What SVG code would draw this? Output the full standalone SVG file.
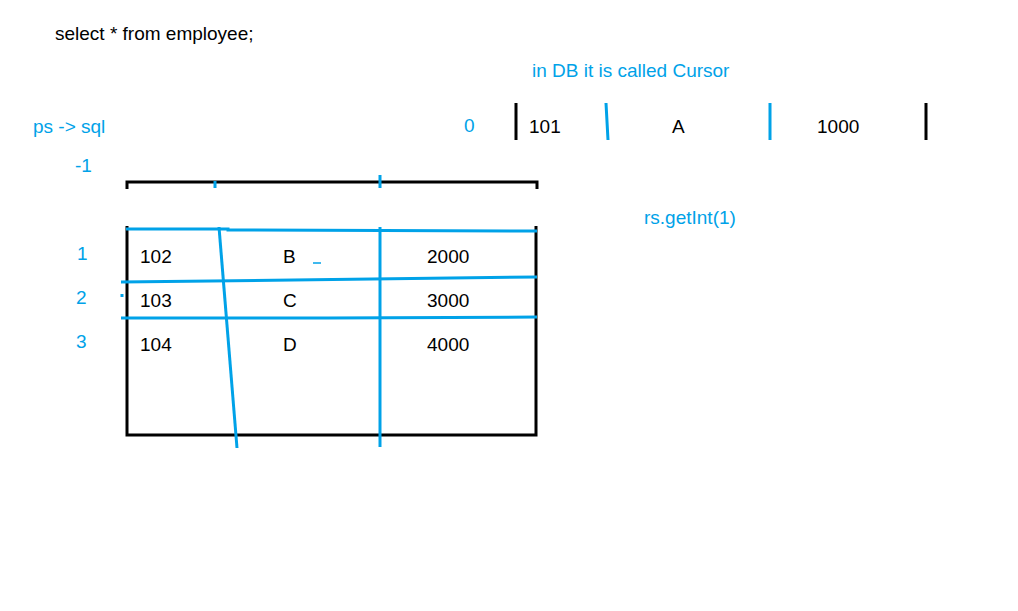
<svg xmlns="http://www.w3.org/2000/svg" width="1018" height="611" viewBox="0 0 1018 611">
<style>
text{font-family:"Liberation Sans",Arial,sans-serif;font-size:19px}
.k{fill:#000}
.b{fill:#00a2e8}
.bl{stroke:#000;stroke-width:3;fill:none}
.bu{stroke:#00a2e8;stroke-width:3;fill:none}
</style>
<rect width="1018" height="611" fill="#fff"/>
<g id="labels">
<text class="k" x="55" y="40">select * from employee;</text>
<text class="b" x="532" y="77">in DB it is called Cursor</text>
<text class="b" x="33" y="133">ps -&gt; sql</text>
<text class="b" x="464" y="132">0</text>
<text class="b" x="75" y="172">-1</text>
<text class="b" x="644" y="224">rs.getInt(1)</text>
<text class="b" x="77" y="260">1</text>
<text class="b" x="76" y="304">2</text>
<text class="b" x="76" y="348">3</text>
</g>
<g id="cursor-row">
<path class="bl" d="M516 103V140M926 103V140"/>
<path class="bu" stroke-width="2.5" d="M606 103L608 140M770 103V140"/>
<text class="k" x="529" y="133">101</text>
<text class="k" x="672" y="133">A</text>
<text class="k" x="817" y="133">1000</text>
</g>
<g id="header">
<path class="bl" d="M127 189V182H537V189"/>
<path class="bu" d="M215 181V188M380 175V188"/>
</g>
<g id="table">
<path class="bl" d="M127 226V435H536V226"/>
<path class="bu" d="M126 229L228 229L228 230L537 231"/>
<path class="bu" d="M219 227L237 448"/>
<path class="bu" d="M380 227V447"/>
<path class="bu" d="M121 282L537 277"/>
<path class="bu" d="M121 318L328 318L537 317"/>
<path class="bu" d="M122 294V297"/>
<path stroke="#00a2e8" stroke-width="1.5" d="M313 263H321"/>
<text class="k" x="140" y="263">102</text>
<text class="k" x="283" y="263">B</text>
<text class="k" x="427" y="263">2000</text>
<text class="k" x="140" y="307">103</text>
<text class="k" x="283" y="307">C</text>
<text class="k" x="427" y="307">3000</text>
<text class="k" x="140" y="351">104</text>
<text class="k" x="283" y="351">D</text>
<text class="k" x="427" y="351">4000</text>
</g>
</svg>
